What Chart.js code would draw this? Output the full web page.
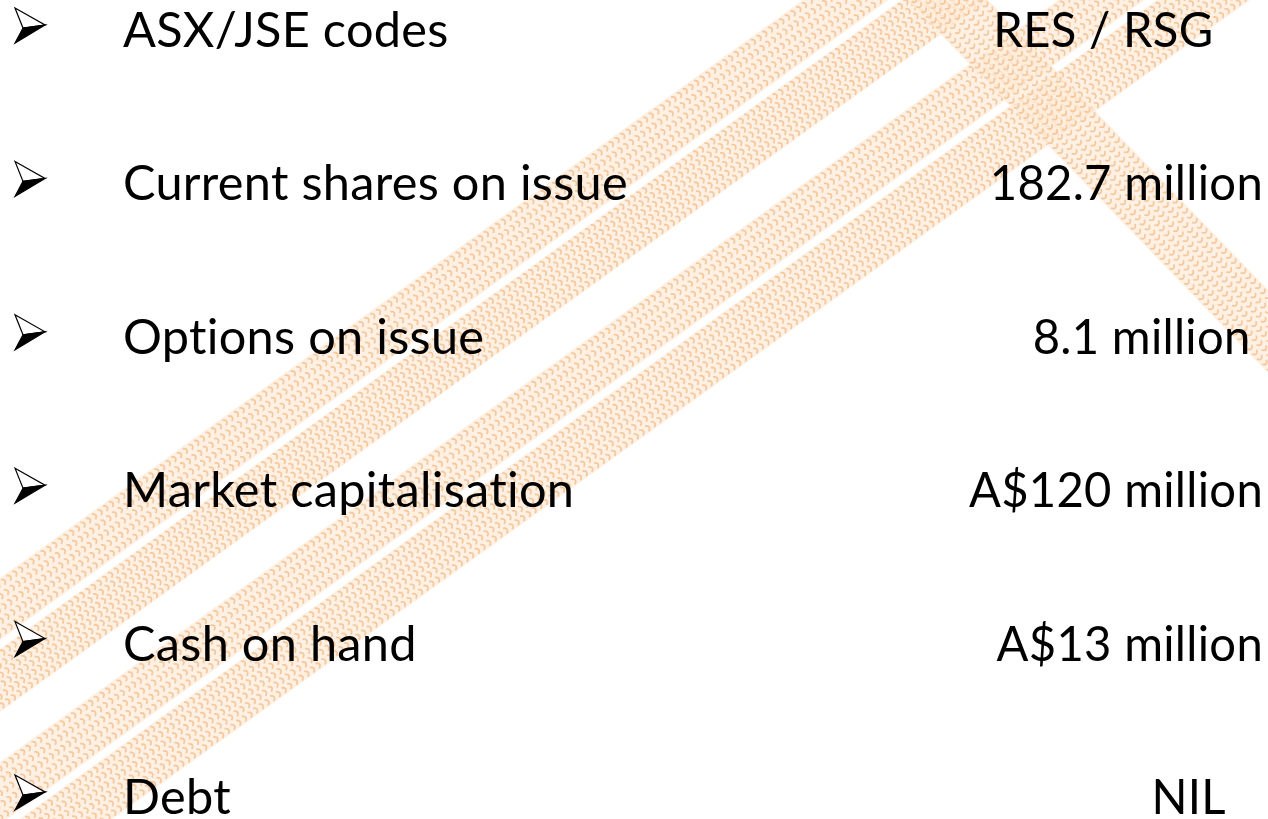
<!DOCTYPE html>
<html><head><meta charset="utf-8">
<script src="https://cdn.jsdelivr.net/npm/chart.js@4/dist/chart.umd.min.js"></script>
<style>html,body{margin:0;padding:0;background:#fff;overflow:hidden}#wrap{width:1268px;height:819px;position:relative}</style>
</head><body><div id="wrap"><canvas id="c" width="1268" height="819"></canvas></div>
<script>
const labels = ['ASX/JSE codes','Current shares on issue','Options on issue','Market capitalisation','Cash on hand','Debt'];
const values = ['RES / RSG    ','182.7 million','8.1 million ','A$120 million','A$13 million','NIL   '];

function drawTrack(ctx,u0,u1,v0,v1){
  ctx.fillStyle='rgba(253,236,219,0.75)';
  ctx.fillRect(u0,v0,u1-u0,v1-v0);
  ctx.strokeStyle='rgba(244,190,140,0.8)';
  ctx.lineWidth=1.8;
  const cols=Math.max(2,Math.floor((v1-v0)/8.5));
  const dv=(v1-v0)/cols;
  ctx.beginPath();
  for(let u=u0;u<u1;u+=7){
    for(let c=0;c<cols;c++){
      const v=v0+dv*(c+0.5);
      const uu=u+((c%2)?3.5:0);
      ctx.moveTo(uu-2,v-3.2);
      ctx.quadraticCurveTo(uu+3.5,v,uu-2,v+3.2);
    }
  }
  ctx.stroke();
}

const bgPlugin={
  id:'bg',
  beforeDraw(chart){
    const ctx=chart.ctx;
    ctx.save();
    ctx.fillStyle='#fff';ctx.fillRect(0,0,chart.width,chart.height);
    const k=0.72,n=Math.hypot(1,k);
    ctx.setTransform(1/n,-k/n,k/n,1/n,0,0);
    for(const [b1,b2] of [[578,640],[649,712],[762,824],[833,900]]) drawTrack(ctx,-700,1200,b1/n,b2/n);
    ctx.setTransform(1,0,0,1,0,0);
    ctx.translate(985,40);
    ctx.rotate(Math.atan2(300,290));
    drawTrack(ctx,-80,480,-30,28);
    ctx.restore();
  }
};

const textPlugin={
  id:'rows',
  afterDraw(chart){
    const ctx=chart.ctx,ys=chart.scales.y;
    ctx.save();
    ctx.font='49px Lato';
    ctx.letterSpacing='0.3px';
    const sx=505/ctx.measureText(labels[1]).width;
    ctx.fillStyle='#000';
    labels.forEach((lab,i)=>{
      const y=ys.getPixelForValue(i);
      ctx.save();
      ctx.translate(0,y);
      ctx.beginPath();ctx.moveTo(15,-39);ctx.lineTo(45,-22);ctx.lineTo(23,-19);ctx.closePath();
      ctx.fillStyle='#fff';ctx.fill();ctx.lineWidth=1.2;ctx.strokeStyle='#000';ctx.stroke();
      ctx.beginPath();ctx.moveTo(23,-19);ctx.lineTo(45,-22);ctx.lineTo(15,-4);ctx.closePath();
      ctx.fillStyle='#000';ctx.fill();ctx.stroke();
      ctx.restore();
      ctx.save();ctx.translate(123,y);ctx.scale(sx,1);ctx.textAlign='left';ctx.textBaseline='alphabetic';
      ctx.fillStyle='#000';ctx.fillText(lab,0,0);ctx.restore();
      ctx.save();ctx.translate(1263,y);ctx.scale(sx*0.97,1);ctx.textAlign='right';ctx.textBaseline='alphabetic';
      ctx.fillStyle='#000';ctx.fillText(values[i],0,0);ctx.restore();
    });
    ctx.restore();
  }
};

new Chart(document.getElementById('c'),{
  type:'scatter',
  data:{labels:labels,datasets:[{data:labels.map(l=>({x:0,y:l})),pointRadius:0}]},
  options:{
    responsive:false,animation:false,devicePixelRatio:1,
    layout:{padding:{top:47,bottom:5,left:0,right:0}},
    plugins:{legend:{display:false},tooltip:{enabled:false}},
    scales:{
      x:{type:'linear',display:false,min:0,max:1},
      y:{type:'category',labels:labels,display:false,offset:false}
    }
  },
  plugins:[bgPlugin,textPlugin]
});
</script></body></html>
